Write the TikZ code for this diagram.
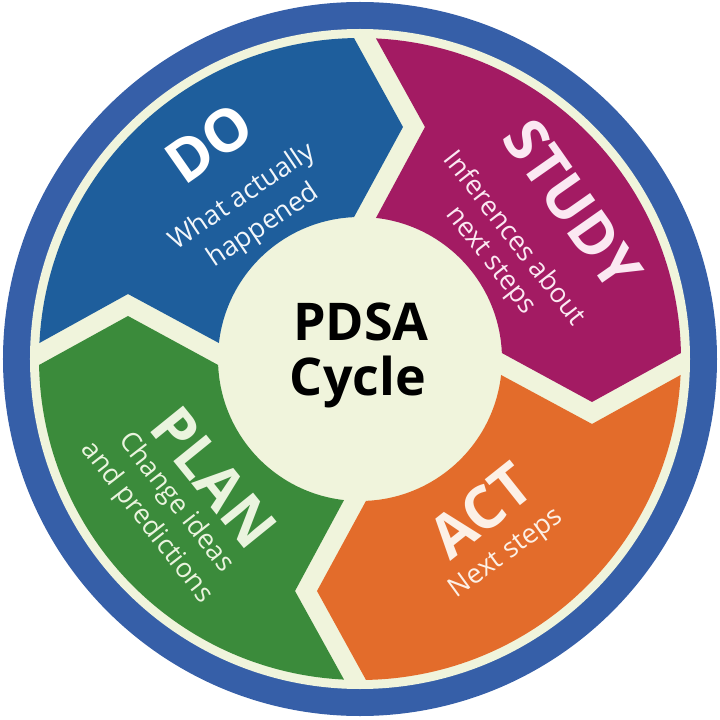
\documentclass[tikz,border=0pt]{standalone}
\usepackage{fontspec}
\setmainfont{Open Sans}
\usetikzlibrary{calc}
\definecolor{ringblue}{HTML}{365FA8}
\definecolor{cream}{HTML}{F0F4DC}
\definecolor{doblue}{HTML}{1E5E9C}
\definecolor{studymag}{HTML}{A31B63}
\definecolor{actorange}{HTML}{E36C2B}
\definecolor{plangreen}{HTML}{3B8B3B}
\definecolor{dotext}{HTML}{F2F6FA}
\definecolor{studytext}{HTML}{FBE8F2}
\definecolor{acttext}{HTML}{FCF0E6}
\definecolor{plantext}{HTML}{EAF4DE}
\def\Rout{321}
\def\Rin{142}
\def\Rmid{232}
\def\OffA{-6}
\def\OffB{16}
\def\TipLen{49}
% #1 = angle of the division where the segment starts (counter-clockwise side), #2 = colour
\newcommand\pdsaseg[2]{%
  \fill[#2] ({#1-asin(\OffB/\Rout)}:\Rout)
    arc[start angle={#1-asin(\OffB/\Rout)}, end angle={#1-90-asin(\OffA/\Rout)}, radius=\Rout]
    -- ($({#1-90}:\Rmid)+({#1-180}:{\OffA+\TipLen})$)
    -- ({#1-90-asin(\OffA/\Rin)}:\Rin)
    arc[start angle={#1-90-asin(\OffA/\Rin)}, end angle={#1-asin(\OffB/\Rin)}, radius=\Rin]
    -- ($({#1}:\Rmid)+({#1-90}:{\OffB+\TipLen})$) -- cycle;}
\begin{document}
\begin{tikzpicture}[x=1pt,y=1pt,
  head/.style={font=\fontsize{59}{59}\selectfont\bfseries, inner sep=0pt},
  sub/.style={font=\fontsize{27}{30}\selectfont, inner sep=0pt},
  centre/.style={font=\fontsize{52}{56}\selectfont\bfseries, inner sep=0pt, text=black}]
\useasboundingbox (-360,-361) rectangle (360,359);
\fill[white] (-360,-361) rectangle (360,359);
\fill[ringblue] (0,0) circle[radius=357];
\fill[cream] (0,0) circle[radius=330];
\pdsaseg{180}{doblue}
\pdsaseg{90}{studymag}
\pdsaseg{0}{actorange}
\pdsaseg{-90}{plangreen}
% DO
\node[head, text=white, rotate=35] (doH) at (125:263) {DO};
\node[sub, text=dotext, rotate=34] (doA) at (126:200) {What actually};
\node[sub, text=dotext, rotate=34] (doB) at (126:164) {happened};
% STUDY
\node[head, text=studytext, rotate=-55] (stH) at (36:263) {STUDY};
\node[sub, text=studytext, rotate=-52] (stA) at (38:198) {Inferences about};
\node[sub, text=studytext, rotate=-52] (stB) at (37:162) {next steps};
% ACT
\node[head, text=acttext, rotate=38.5] (acH) at (-51.5:194) {ACT};
\node[sub, text=acttext, rotate=36] (acA) at (-53:244) {Next steps};
% PLAN
\node[head, text=plantext, rotate=-51] (plH) at (219:188) {PLAN};
\node[sub, text=plantext, rotate=-52] (plA) at (218:234) {Change ideas};
\node[sub, text=plantext, rotate=-52] (plB) at (217.5:269) {and predictions};
% centre
\node[centre, anchor=base] (pdsa) at (1,19) {PDSA};
\node[centre, anchor=base] (cyc) at (-2,-36) {Cycle};
\end{tikzpicture}
\end{document}
